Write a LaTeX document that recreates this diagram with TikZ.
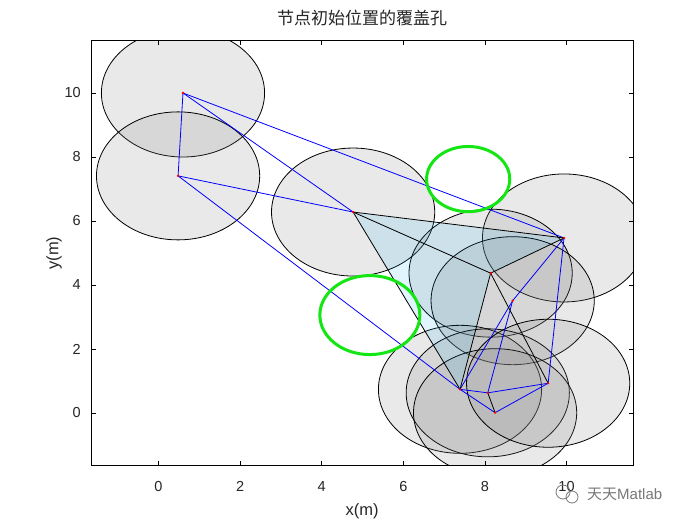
\documentclass[tikz,border=0pt]{standalone}
\usepackage{fontspec}
\setmainfont{Liberation Sans}
\newfontfamily\cjk{Noto Sans CJK SC}
\definecolor{holegreen}{RGB}{20,230,20}
\definecolor{covgray}{RGB}{128,128,128}
\definecolor{wmgray}{RGB}{120,120,120}
\tikzset{
  cov/.style={draw=black, line width=0.8pt, fill=covgray, fill opacity=0.17},
  tri/.style={fill=cyan, fill opacity=0.12},
  blueedge/.style={draw=blue, line width=0.8pt},
  blackedge/.style={draw=black, line width=0.8pt},
  hole/.style={draw=holegreen, line width=3pt},
  dot/.style={circle, fill=red, inner sep=0pt, minimum size=2.6pt},
  axisbox/.style={draw=black, line width=0.8pt},
  ticklab/.style={font=\fontsize{14.5}{16}\selectfont, text=black!85},
}
\begin{document}
\begin{tikzpicture}[x=1pt,y=1pt]
\useasboundingbox (0,0) rectangle (700,525);
\fill[white] (0,0) rectangle (700,525);
\begin{scope}[shift={(158.5,112)}, x=40.8pt, y=32pt]
  \coordinate (A) at (0.60,10.00);
  \coordinate (B) at (0.48,7.41);
  \coordinate (C) at (4.77,6.28);
  \coordinate (D) at (9.94,5.47);
  \coordinate (E) at (8.14,4.37);
  \coordinate (F) at (8.68,3.51);
  \coordinate (G) at (7.39,0.74);
  \coordinate (H) at (8.07,0.63);
  \coordinate (I) at (8.25,0.01);
  \coordinate (J) at (9.55,0.93);
  \coordinate (h1) at (7.59,7.31);
  \coordinate (h2) at (5.18,3.06);
  \begin{scope}
    \clip (-1.65,-1.65) rectangle (11.65,11.65);
    \foreach \p in {A,B,C,D,E,F,G,H,I,J}
      \path[cov] (\p) ellipse [x radius=81.6pt, y radius=64pt];
    \fill[tri] (C) -- (D) -- (E) -- cycle;
    \fill[tri] (C) -- (E) -- (G) -- cycle;
    \draw[blueedge] (A) -- (B);
    \draw[blueedge] (A) -- (C);
    \draw[blueedge] (A) -- (D);
    \draw[blueedge] (B) -- (C);
    \draw[blueedge] (B) -- (G);
    \draw[blueedge] (D) -- (F);
    \draw[blueedge] (D) -- (J);
    \draw[blueedge] (F) -- (G);
    \draw[blueedge] (F) -- (H);
    \draw[blueedge] (G) -- (H);
    \draw[blueedge] (G) -- (I);
    \draw[blueedge] (H) -- (J);
    \draw[blueedge] (I) -- (J);
    \draw[blackedge] (C) -- (D);
    \draw[blackedge] (C) -- (E);
    \draw[blackedge] (C) -- (G);
    \draw[blackedge] (D) -- (E);
    \draw[blackedge] (E) -- (G);
    \draw[blackedge] (E) -- (J);
    \draw[blackedge] (H) -- (I);
    \foreach \p in {A,B,C,D,E,F,G,H,I,J}
      \node[dot] (n\p) at (\p) {};
    \draw[hole] (h1) ellipse [x radius=41.6pt, y radius=32.6pt];
    \draw[hole] (h2) ellipse [x radius=50pt, y radius=39.5pt];
  \end{scope}
  \draw[axisbox] (-1.65,-1.65) rectangle (11.65,11.65);
  \foreach \k in {0,2,4,6,8,10} {
    \draw[line width=0.8pt] (\k,-1.65) -- ++(0,5pt);
    \draw[line width=0.8pt] (\k,11.65) -- ++(0,-5pt);
    \draw[line width=0.8pt] (-1.65,\k) -- ++(5pt,0);
    \draw[line width=0.8pt] (11.65,\k) -- ++(-5pt,0);
    \node[ticklab] (xt\k) at (\k,-1.65) [yshift=-21pt] {\k};
    \node[ticklab, anchor=east] (yt\k) at (-1.65,\k) [xshift=-7pt] {\k};
  }
\end{scope}
\node[font=\fontsize{16.5}{18}\selectfont, text=black!85] (xl) at (362,14) {x(m)};
\node[font=\fontsize{16.5}{18}\selectfont, text=black!85, rotate=90] (yl) at (54,272) {y(m)};
\node[font=\cjk\fontsize{17}{19}\selectfont, text=black!85] (title) at (362,507) {节点初始位置的覆盖孔};
% watermark
\begin{scope}[wmgray, line width=0.8pt]
  \draw (563,33) circle [radius=7];
  \draw (572,28) circle [radius=6];
\end{scope}
\node[font=\fontsize{15}{17}\selectfont, text=wmgray, anchor=west, inner sep=0pt] (wm) at (587,31) {{\cjk 天天}Matlab};
\end{tikzpicture}
\end{document}
